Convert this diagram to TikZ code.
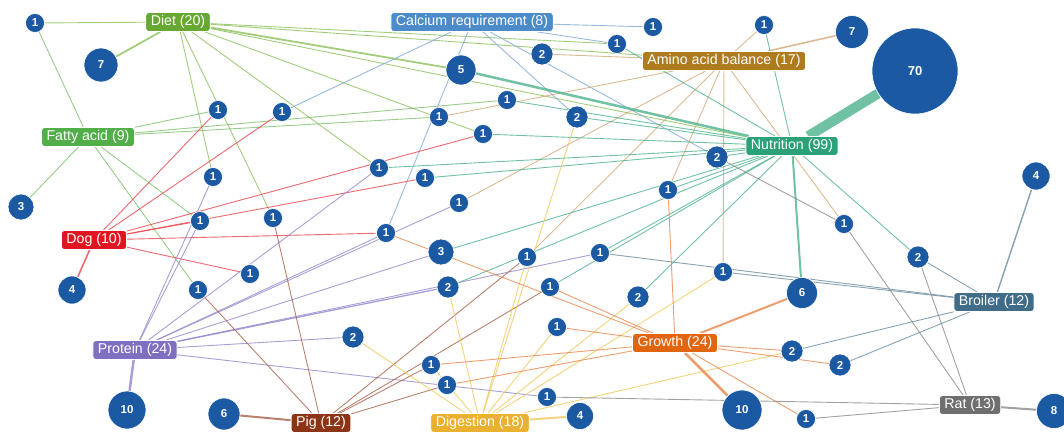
\documentclass[tikz,border=0pt]{standalone}
\usepackage{fontspec}
\setmainfont{Liberation Sans}
\usetikzlibrary{backgrounds}
\definecolor{cblue}{HTML}{1B5AA3}
\definecolor{diet}{HTML}{66A832}
\definecolor{fat}{HTML}{52AE48}
\definecolor{calc}{HTML}{4C8BC9}
\definecolor{amino}{HTML}{AE7B1F}
\definecolor{nutr}{HTML}{2BA178}
\definecolor{dog}{HTML}{E0151F}
\definecolor{prot}{HTML}{7F6FC0}
\definecolor{pig}{HTML}{8B3416}
\definecolor{dig}{HTML}{E9B12E}
\definecolor{grow}{HTML}{E1640F}
\definecolor{broil}{HTML}{416C88}
\definecolor{rat}{HTML}{6F6F6F}
\definecolor{ldiet}{HTML}{8CBF5A}
\definecolor{lfat}{HTML}{7CC06C}
\definecolor{lcalc}{HTML}{7FA9D6}
\definecolor{lamino}{HTML}{D2A878}
\definecolor{lnutr}{HTML}{4DB38C}
\definecolor{ldog}{HTML}{E8434A}
\definecolor{lprot}{HTML}{9586CC}
\definecolor{lpig}{HTML}{A8624A}
\definecolor{ldig}{HTML}{F0C85A}
\definecolor{lgrow}{HTML}{E8864A}
\definecolor{lbroil}{HTML}{6A8AA0}
\definecolor{lrat}{HTML}{8A8A8A}
\begin{document}
\begin{tikzpicture}[x=1pt,y=-1pt,
  hub/.style={rounded corners=3pt, text=white, font=\fontsize{14.2}{16}\selectfont, inner xsep=5pt, inner ysep=0pt, minimum height=19pt, draw=white, line width=0.8pt, fill=#1},
  cnt/.style={circle, fill=cblue, draw=white, line width=0.6pt, text=white, font=\fontsize{11.5}{13}\selectfont\bfseries, inner sep=0pt, minimum size=#1},
  ed/.style={line width=0.9pt, draw=#1, opacity=0.8}]
\useasboundingbox (0,0) rectangle (1064,434);
% hubs
\node[hub=diet] (diet) at (178,22) {Diet (20)};
\node[hub=calc] (calc) at (472,22) {Calcium requirement (8)};
\node[hub=amino] (amino) at (724,61) {Amino acid balance (17)};
\node[hub=nutr] (nutr) at (792,146) {Nutrition (99)};
\node[hub=fat] (fat) at (88,137) {Fatty acid (9)};
\node[hub=dog] (dog) at (94,240) {Dog (10)};
\node[hub=prot] (prot) at (135,350) {Protein (24)};
\node[hub=pig] (pig) at (321,423) {Pig (12)};
\node[hub=dig] (dig) at (480,423) {Digestion (18)};
\node[hub=grow] (grow) at (675,343) {Growth (24)};
\node[hub=broil] (broil) at (994,302) {Broiler (12)};
\node[hub=rat] (rat) at (970,405) {Rat (13)};
% count nodes
\node[cnt=19] (a1) at (35,23) {1};
\node[cnt=34] (a2) at (101,65) {7};
\node[cnt=26] (a3) at (21,207) {3};
\node[cnt=19] (a4) at (218,110) {1};
\node[cnt=19] (a5) at (282,112) {1};
\node[cnt=19] (a6) at (213,177) {1};
\node[cnt=19] (a7) at (200,221) {1};
\node[cnt=19] (a8) at (273,218) {1};
\node[cnt=19] (a9) at (379,168) {1};
\node[cnt=19] (a10) at (386,233) {1};
\node[cnt=19] (a11) at (250,274) {1};
\node[cnt=19] (a12) at (198,290) {1};
\node[cnt=28] (a13) at (72,290) {4};
\node[cnt=38] (a14) at (127,410) {10};
\node[cnt=32] (a15) at (224,414) {6};
\node[cnt=19] (b1) at (653,27) {1};
\node[cnt=19] (b2) at (617,44) {1};
\node[cnt=22] (b3) at (542,54) {2};
\node[cnt=30] (b4) at (461,70) {5};
\node[cnt=19] (b5) at (507,100) {1};
\node[cnt=19] (b6) at (439,117) {1};
\node[cnt=22] (b7) at (577,117) {2};
\node[cnt=19] (b8) at (483,134) {1};
\node[cnt=19] (b9) at (425,178) {1};
\node[cnt=19] (b10) at (459,203) {1};
\node[cnt=19] (b11) at (668,190) {1};
\node[cnt=19] (c1) at (764,25) {1};
\node[cnt=33] (c2) at (852,32) {7};
\node[cnt=86,font=\fontsize{13}{15}\selectfont\bfseries] (c3) at (915,71) {70};
\node[cnt=22] (c4) at (717,157) {2};
\node[cnt=28] (c5) at (1036,176) {4};
\node[cnt=26] (d1) at (441,252) {3};
\node[cnt=19] (d2) at (527,257) {1};
\node[cnt=19] (d3) at (600,253) {1};
\node[cnt=22] (d4) at (448,287) {2};
\node[cnt=19] (d5) at (550,287) {1};
\node[cnt=22] (d6) at (638,297) {2};
\node[cnt=22] (d7) at (353,337) {2};
\node[cnt=19] (d8) at (557,327) {1};
\node[cnt=19] (d9) at (431,365) {1};
\node[cnt=19] (d10) at (447,385) {1};
\node[cnt=19] (d11) at (547,397) {1};
\node[cnt=27] (d12) at (580,416) {4};
\node[cnt=19] (e1) at (844,224) {1};
\node[cnt=22] (e2) at (918,257) {2};
\node[cnt=19] (e3) at (723,272) {1};
\node[cnt=31] (e4) at (802,293) {6};
\node[cnt=22] (e5) at (792,351) {2};
\node[cnt=22] (e6) at (840,365) {2};
\node[cnt=40] (e7) at (742,410) {10};
\node[cnt=19] (e8) at (806,419) {1};
\node[cnt=35] (e9) at (1054,411) {8};
\begin{pgfonlayer}{background}
\foreach \t in {a1,a6,a8,a9,b2,b8,nutr,amino} \draw[ed=ldiet] (diet) -- (\t);
\draw[ed=ldiet,line width=1.8pt] (diet) -- (a2);
\draw[ed=ldiet,line width=1.8pt] (diet) -- (b4);
\foreach \t in {a1,a3,a4,a7,a12,b5,b6} \draw[ed=lfat] (fat) -- (\t);
\foreach \t in {b1,b2,a5,a10,b7,c4} \draw[ed=lcalc] (calc) -- (\t);
\foreach \t in {c1,b3,b6,b10,e3,e1,b11,d2} \draw[ed=lamino] (amino) -- (\t);
\draw[ed=lamino,line width=1.6pt] (amino) -- (c2);
\foreach \t in {c1,b2,b5,b7,b8,a9,b9,d1,d4,d5,d6,e2,c4,b11,d3} \draw[ed=lnutr] (nutr) -- (\t);
\draw[ed=lnutr,line width=10pt] (nutr) -- (c3);
\draw[ed=lnutr,line width=2.5pt] (nutr) -- (b4);
\draw[ed=lnutr,line width=2pt] (nutr) -- (e4);
\foreach \t in {a4,a5,b8,b9,a10,a7,a11} \draw[ed=ldog] (dog) -- (\t);
\draw[ed=ldog,line width=1.6pt] (dog) -- (a13);
\foreach \t in {a6,a7,a9,a10,b10,d1,d3,d7,d11} \draw[ed=lprot] (prot) -- (\t);
\draw[ed=lprot,line width=2.5pt] (prot) -- (a14);
\draw[ed=lprot,line width=1.3pt] (prot) -- (d4);
\foreach \t in {a8,a12,d2,d5,d9,d10} \draw[ed=lpig] (pig) -- (\t);
\draw[ed=lpig,line width=2pt] (pig) -- (a15);
\foreach \t in {d4,d7,b7,d2,d8,d6,e3,e5,d9} \draw[ed=ldig] (dig) -- (\t);
\draw[ed=ldig,line width=2pt] (dig) -- (d12);
\foreach \t in {b11,a10,d8,d9,d10,d5,e5,e6,e8} \draw[ed=lgrow] (grow) -- (\t);
\draw[ed=lgrow,line width=2pt] (grow) -- (e4);
\draw[ed=lgrow,line width=2.5pt] (grow) -- (e7);
\foreach \t in {e2,e3,d3,e5,e6} \draw[ed=lbroil] (broil) -- (\t);
\draw[ed=lbroil,line width=1.4pt] (broil) -- (c5);
\foreach \t in {e8,e1,e2,d11} \draw[ed=lrat] (rat) -- (\t);
\draw[ed=lrat,line width=2pt] (rat) -- (e9);
\draw[ed=lrat] (c4) -- (e1);
\end{pgfonlayer}
\end{tikzpicture}
\end{document}
